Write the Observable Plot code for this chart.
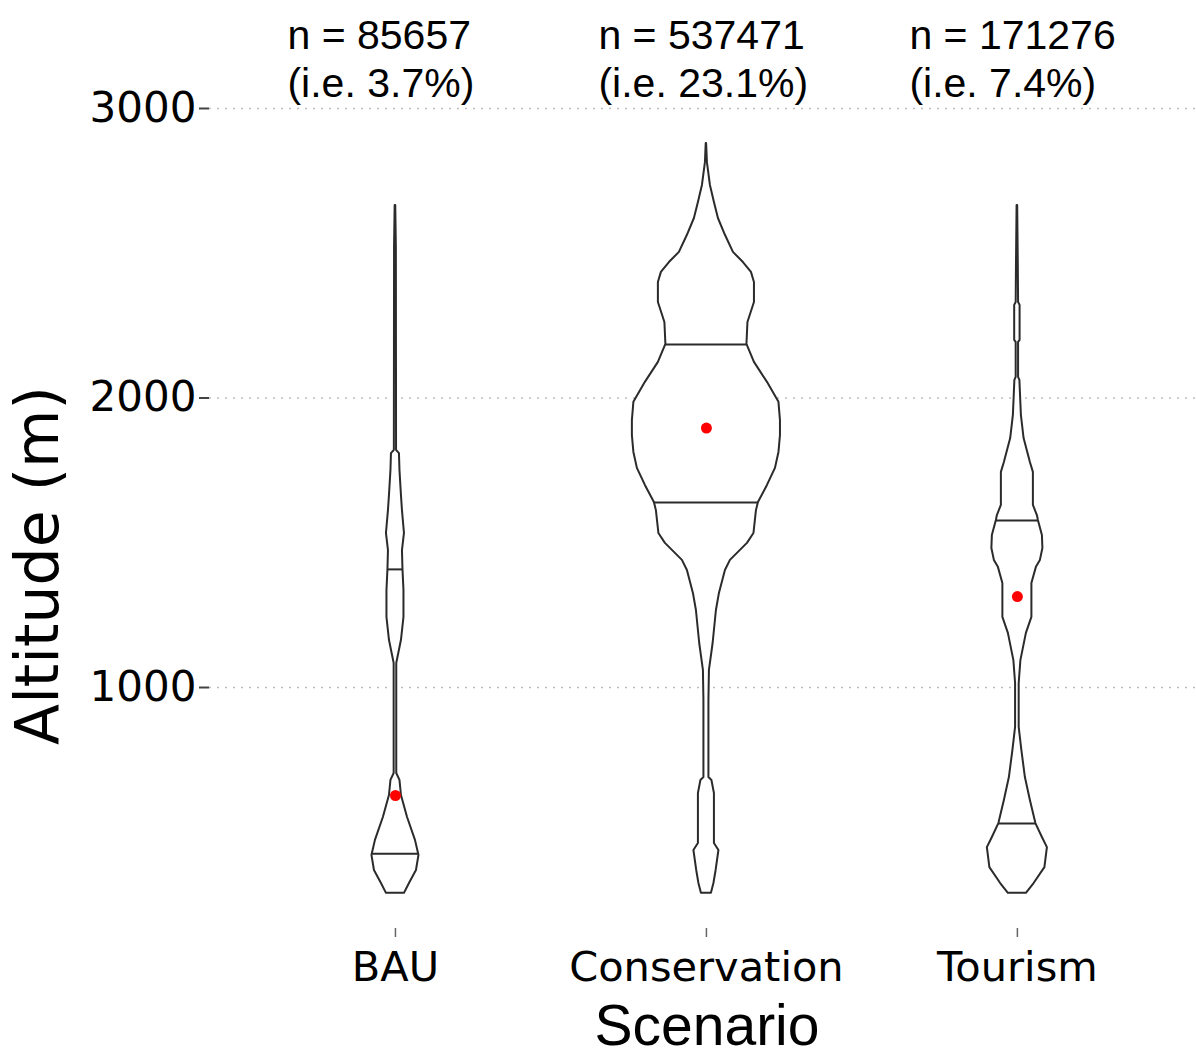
<!DOCTYPE html>
<html>
<head>
<meta charset="utf-8">
<script src="https://cdn.jsdelivr.net/npm/d3@7"></script>
<script src="https://cdn.jsdelivr.net/npm/@observablehq/plot@0.6"></script>
<style>body{margin:0;background:#fff}</style>
</head>
<body>
<div id="chart"></div>
<script>
const scenarios = ["BAU", "Conservation", "Tourism"];
const counts = [85657, 537471, 171276];
const shares = ["3.7", "23.1", "7.4"];
const means = [627, 1896, 1314];
const q25 = [426, 1639, 530];
const q75 = [1408, 2185, 1577];
const yTicks = [1000, 2000, 3000];

// violin profiles: altitude (m) and relative half-width (density)
const bauAlt = [289, 323, 368, 420, 472, 552, 627, 679, 703, 1083, 1163, 1242, 1335, 1408, 1473, 1532, 1611, 1663, 1750, 1808, 1819, 2520, 2665];
const bauW   = [9, 14, 21, 23.5, 20, 12, 6, 4.5, 1.3, 1.3, 6, 8.5, 8.5, 7.5, 7, 9, 7, 6, 4.5, 4, 1.1, 0.9, 0.3];

const conAlt = [289, 323, 368, 437, 461, 634, 679, 689, 955, 1059, 1152, 1266, 1325, 1404, 1439, 1498, 1532, 1611, 1639, 1698, 1757, 1812, 1870, 1922, 1985, 2054, 2123, 2185, 2261, 2330, 2399, 2434, 2468, 2503, 2562, 2620, 2675, 2734, 2813, 2855, 2879];
const conW   = [5, 7.5, 9.7, 12.5, 8, 8, 5.5, 2.5, 2.5, 3, 6.7, 10, 13, 19, 24, 41, 47.5, 50, 52, 61, 69, 72.5, 74, 74, 72.5, 61, 48, 40.5, 41.5, 48, 48, 45, 37, 27, 19, 12, 8, 4, 1, 0.5, 0.2];

const touAlt = [289, 323, 378, 447, 482, 530, 610, 689, 782, 862, 1014, 1093, 1187, 1242, 1359, 1415, 1439, 1480, 1525, 1577, 1594, 1629, 1743, 1777, 1860, 1940, 2061, 2071, 2192, 2199, 2320, 2330, 2465, 2665];
const touW   = [9, 16.7, 27.5, 30, 25, 18.5, 13, 8, 4.5, 1.8, 1.8, 3.5, 9, 14.5, 14.5, 19, 23, 25.5, 25, 21, 20, 16, 16, 13, 6.7, 4, 2.5, 1.2, 1.2, 2.7, 2.7, 1.2, 0.9, 0.3];

const profiles = [[bauAlt, bauW], [conAlt, conW], [touAlt, touW]];
const k = 1 / 310.8; // density unit -> x units

const rows = [];
profiles.forEach(([alts, ws], i) => {
  alts.forEach((a, j) => rows.push({scenario: scenarios[i], pos: i + 1, alt: a, w: ws[j]}));
});

function widthAt(alts, ws, a) {
  for (let j = 0; j < alts.length - 1; j++) {
    if (a >= alts[j] && a <= alts[j + 1]) {
      const t = (a - alts[j]) / (alts[j + 1] - alts[j]);
      return ws[j] + t * (ws[j + 1] - ws[j]);
    }
  }
  return 0;
}

const quart = [];
scenarios.forEach((s, i) => {
  [q25[i], q75[i]].forEach(q => quart.push({pos: i + 1, alt: q, w: widthAt(profiles[i][0], profiles[i][1], q)}));
});
const meanRows = scenarios.map((s, i) => ({pos: i + 1, mean: means[i]}));
const annot = scenarios.map((s, i) => ({pos: i + 1, label: `n = ${counts[i]}\n(i.e. ${shares[i]}%)`}));

const chart = Plot.plot({
  width: 1196,
  height: 1057,
  marginLeft: 209,
  marginRight: 0,
  marginTop: 0,
  marginBottom: 129,
  style: {background: "white", fontFamily: "DejaVu Sans"},
  x: {domain: [0.402, 3.576]},
  y: {domain: [167.6, 3373]},
  marks: [
    Plot.ruleY(yTicks, {stroke: "#bdbdbd", strokeWidth: 1.5, strokeDasharray: "2,6"}),
    Plot.areaX(rows, {
      y: "alt",
      x1: d => d.pos - d.w * k,
      x2: d => d.pos + d.w * k,
      z: "scenario",
      fill: "white",
      stroke: "#2b2b2b",
      strokeWidth: 2
    }),
    Plot.ruleY(quart, {y: "alt", x1: d => d.pos - d.w * k, x2: d => d.pos + d.w * k, stroke: "#2b2b2b", strokeWidth: 2}),
    Plot.dot(meanRows, {x: "pos", y: "mean", r: 5.5, fill: "red", stroke: "none"}),
    Plot.axisY(yTicks, {tickSize: 10, tickPadding: 3, tickFormat: "d", fontSize: 42, fontFamily: "DejaVu Sans", label: null, stroke: "#444", strokeWidth: 2, fill: "#000"}),
    Plot.axisX([1, 2, 3], {tickSize: 9, tickPadding: 14, tickFormat: d => scenarios[d - 1], fontSize: 41.5, fontFamily: "DejaVu Sans", label: null, stroke: "#666", strokeWidth: 1.5, fill: "#000"}),
    Plot.text(annot, {x: "pos", frameAnchor: "top", text: "label", textAnchor: "start", lineAnchor: "top", lineHeight: 1.17, dx: -108, dy: 14, fontSize: 41, fontFamily: "Liberation Sans, Arial, sans-serif", fill: "#000"}),
    Plot.text(["Scenario"], {frameAnchor: "bottom", textAnchor: "middle", lineAnchor: "bottom", dx: 4, dy: 116, fontSize: 57, fontFamily: "Liberation Sans, Arial, sans-serif", fill: "#000"}),
    Plot.text(["Altitude (m)"], {frameAnchor: "left", rotate: -90, textAnchor: "middle", lineAnchor: "bottom", dx: -152, dy: 101, fontSize: 60, fontFamily: "DejaVu Sans", fill: "#000"})
  ]
});
document.getElementById("chart").appendChild(chart);
</script>
</body>
</html>
